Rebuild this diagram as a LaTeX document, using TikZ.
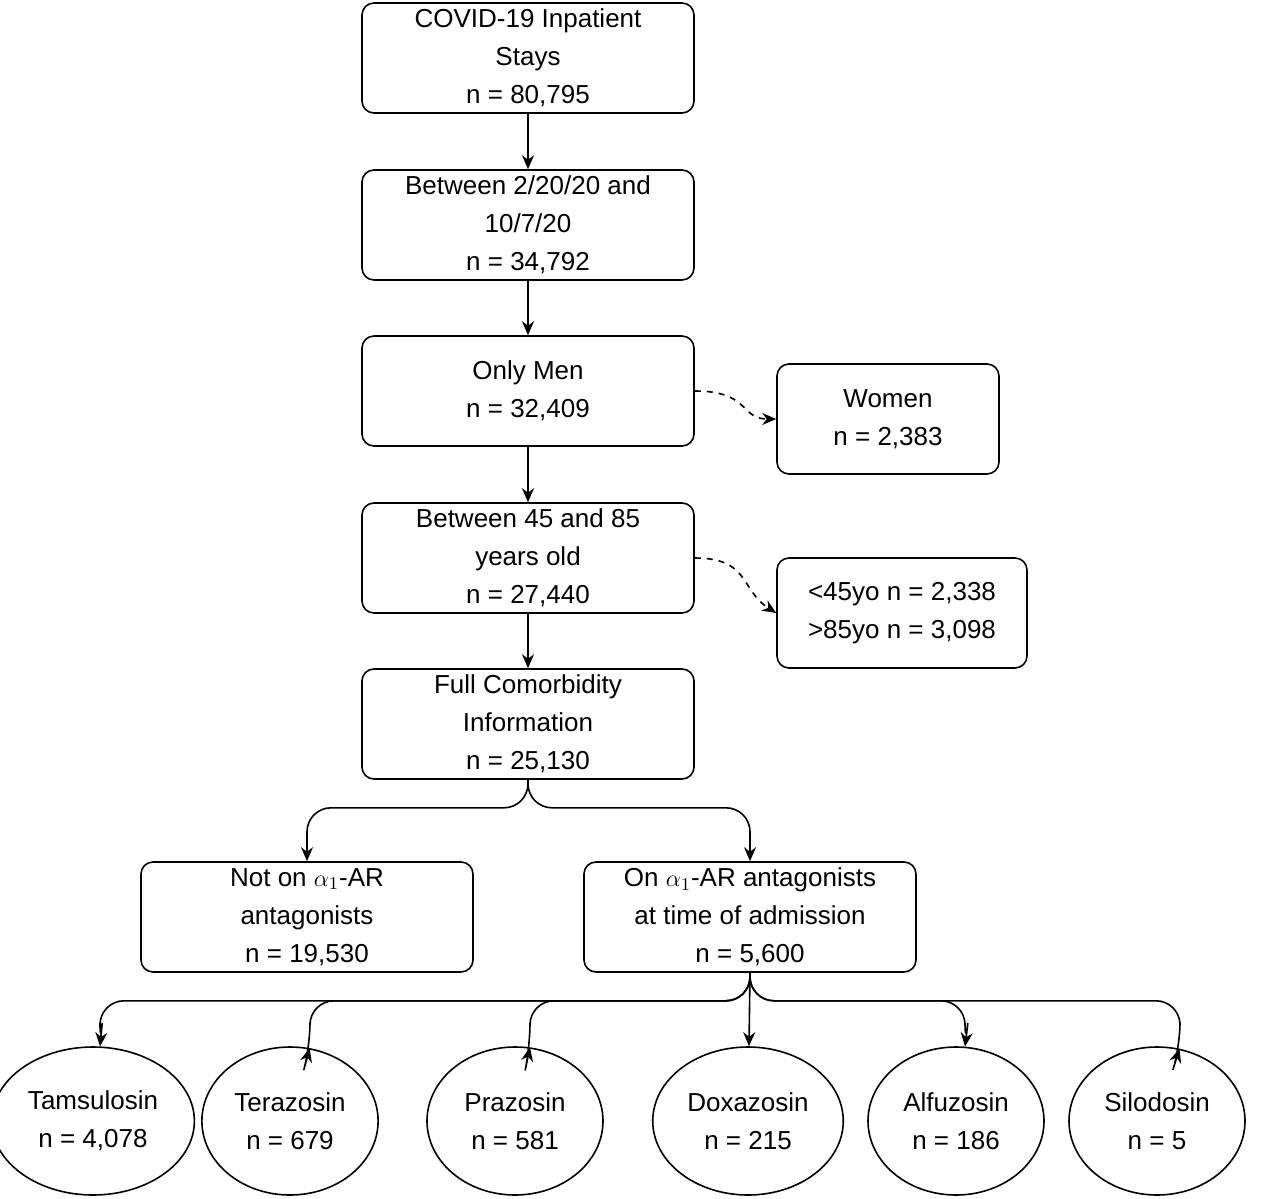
\documentclass[tikz,border=0pt]{standalone}
\usepackage{fontspec}
\setmainfont{Liberation Sans}
\usetikzlibrary{arrows.meta,shapes.geometric}

\begin{document}
\begin{tikzpicture}[x=0.5pt,y=-0.5pt,font=\fontsize{13}{19}\selectfont,
  box/.style={draw,rounded corners=6pt,line width=0.8pt,minimum width=166pt,minimum height=55pt,align=center,inner sep=1pt},
  side/.style={draw,rounded corners=6pt,line width=0.8pt,minimum height=55pt,align=center},
  drug/.style={draw,ellipse,line width=0.8pt,minimum width=88pt,minimum height=74pt,align=center},
  arr/.style={-{Stealth[length=7pt,width=6pt]},line width=0.8pt},
  dsh/.style={arr,dashed}]
\useasboundingbox (0,0) rectangle (1280,1199);
% Main chain
\node[box] (stays) at (528,58) {COVID-19 Inpatient\\Stays\\n = 80,795};
\node[box] (dates) at (528,225) {Between 2/20/20 and\\10/7/20\\n = 34,792};
\node[box] (men) at (528,391) {Only Men\\n = 32,409};
\node[box] (age) at (528,558) {Between 45 and 85\\years old\\n = 27,440};
\node[box] (comorb) at (528,724) {Full Comorbidity\\Information\\n = 25,130};
% Exclusions
\node[side,minimum width=111pt] (women) at (888,419) {Women\\n = 2,383};
\node[side,minimum width=125pt] (ages) at (902,613) {<45yo n = 2,338\\>85yo n = 3,098};
% Split on treatment
\node[box] (noab) at (307,917) {Not on $\alpha_1$-AR\\antagonists\\n = 19,530};
\node[box] (onab) at (750,917) {On $\alpha_1$-AR antagonists\\at time of admission\\n = 5,600};
% Drugs
\node[drug,minimum width=90pt] (tams) at (93,1121) {Tamsulosin\\n = 4,078};
\node[drug] (tera) at (290,1121) {Terazosin\\n = 679};
\node[drug] (praz) at (515,1121) {Prazosin\\n = 581};
\node[drug,minimum width=93pt] (doxa) at (748,1121) {Doxazosin\\n = 215};
\node[drug] (alfu) at (956,1121) {Alfuzosin\\n = 186};
\node[drug] (silo) at (1157,1121) {Silodosin\\n = 5};
% Connectors
\draw[arr] (stays) -- (dates);
\draw[arr] (dates) -- (men);
\draw[arr] (men) -- (age);
\draw[arr] (age) -- (comorb);
\draw[dsh] (men.east) .. controls (750,391) and (740,419) .. (women.west);
\draw[dsh] (age.east) .. controls (750,558) and (740,590) .. (ages.west);
\draw[arr,rounded corners=12pt] (comorb.south) -- ++(0,28) -| (noab.north);
\draw[arr,rounded corners=12pt] (comorb.south) -- ++(0,28) -| (onab.north);
\foreach \d/\x in {tams/100,tera/310,praz/530,alfu/965,silo/1180}
  \draw[arr,rounded corners=12pt] (onab.south) -- ++(0,28) -| (\x,1047) -- (\d);
\draw[arr] (onab.south) -- (doxa);
\end{tikzpicture}
\end{document}
